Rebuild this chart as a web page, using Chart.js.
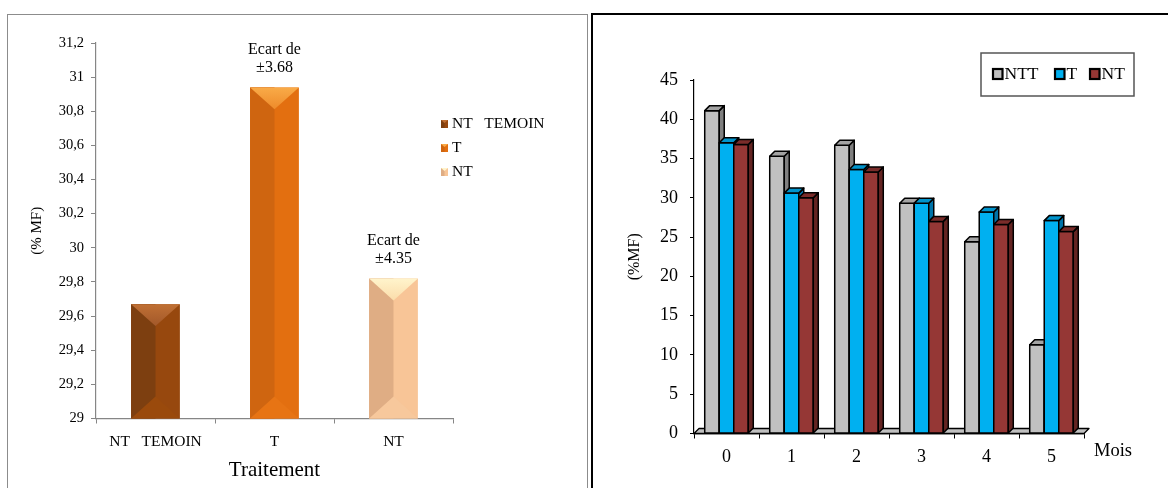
<!DOCTYPE html>
<html>
<head>
<meta charset="utf-8">
<script src="https://cdn.jsdelivr.net/npm/chart.js@4.4.1/dist/chart.umd.min.js"></script>
<style>
  html, body { margin: 0; padding: 0; background: #fff; width: 1168px; height: 488px; overflow: hidden; }
  body { position: relative; }
  .frame-left { position: absolute; left: 7px; top: 14px; width: 581px; height: 520px; border: 1.5px solid #8c8c8c; box-sizing: border-box; }
  .frame-right { position: absolute; left: 591px; top: 13px; width: 620px; height: 520px; border: 2px solid #000; box-sizing: border-box; }
  #leftChart { position: absolute; left: 0; top: 0; }
  #rightChart { position: absolute; left: 590px; top: 0; }
</style>
</head>
<body>
<div class="frame-left"></div>
<div class="frame-right"></div>
<canvas id="leftChart" width="590" height="488"></canvas>
<canvas id="rightChart" width="578" height="488"></canvas>
<script>
// ---- Treatment comparison (left panel) ----
const treatments = ['NT   TEMOIN', 'T', 'NT'];
const treatmentValues = [29.67, 30.94, 29.82];
const treatmentDeviations = ['', '±3.68', '±4.35'];
const treatmentTickLabels = ['29', '29,2', '29,4', '29,6', '29,8', '30', '30,2', '30,4', '30,6', '30,8', '31', '31,2'];

// ---- Monthly evolution (right panel) ----
const months = ['0', '1', '2', '3', '4', '5'];
const seriesNames = ['NTT', 'T', 'NT'];
const nttValues = [41.1, 35.3, 36.7, 29.3, 24.4, 11.3];
const tValues = [37.0, 30.6, 33.6, 29.3, 28.2, 27.1];
const ntValues = [36.8, 30.0, 33.3, 27.0, 26.6, 25.7];

const SERIF = '"Liberation Serif", "Times New Roman", serif';
Chart.defaults.font.family = SERIF;
Chart.defaults.color = '#000';

// bevelled bar shading for the treatment bars
const bevel = {
  face:  ['#97480e', '#e36f10', '#f8c597'],
  shade: ['#7d3f10', '#cf6510', '#dfad84'],
  crownTop: ['#c07034', '#f9ab48', '#fff4cc'],
  crownLow: ['#a2582a', '#ee8a2a', '#fbdcaa'],
  foot:  ['#9a4a0c', '#e77414', '#f7c89c']
};

const bevelPlugin = {
  id: 'bevelBars',
  afterDatasetsDraw(chart) {
    const ctx = chart.ctx;
    const meta = chart.getDatasetMeta(0);
    const floor = chart.chartArea.bottom;
    meta.data.forEach((bar, i) => {
      const w = bar.width, l = bar.x - w / 2, r = bar.x + w / 2, t = bar.y;
      const b = Math.min(bar.base, floor);
      const d = Math.min(w * 0.45, (b - t) / 2);
      ctx.save();
      ctx.fillStyle = bevel.shade[i];
      ctx.fillRect(l, t, w / 2, b - t);
      ctx.beginPath();
      ctx.moveTo(l, b); ctx.lineTo(r, b); ctx.lineTo(bar.x, b - d); ctx.closePath();
      ctx.fillStyle = bevel.foot[i];
      ctx.fill();
      const g = ctx.createLinearGradient(0, t, 0, t + d);
      g.addColorStop(0, bevel.crownTop[i]);
      g.addColorStop(1, bevel.crownLow[i]);
      ctx.beginPath();
      ctx.moveTo(l, t); ctx.lineTo(r, t); ctx.lineTo(bar.x, t + d); ctx.closePath();
      ctx.fillStyle = g;
      ctx.fill();
      // deviation note above the bar
      if (treatmentDeviations[i]) {
        ctx.fillStyle = '#000';
        ctx.font = '16px ' + SERIF;
        ctx.textAlign = 'center';
        ctx.textBaseline = 'middle';
        ctx.fillText('Ecart de', bar.x, t - 38);
        ctx.fillText(treatmentDeviations[i], bar.x, t - 20);
      }
      ctx.restore();
    });
  },
  afterDraw(chart) {
    const ctx = chart.ctx;
    ctx.save();
    ctx.font = '15.5px ' + SERIF;
    ctx.textAlign = 'left';
    ctx.textBaseline = 'middle';
    treatments.forEach((name, i) => {
      const y = 124 + i * 24;
      ctx.fillStyle = bevel.face[i];
      ctx.fillRect(441, y - 4, 7, 8);
      ctx.fillStyle = bevel.shade[i];
      ctx.fillRect(441, y - 4, 3.5, 8);
      ctx.beginPath();
      ctx.moveTo(441, y - 4); ctx.lineTo(448, y - 4); ctx.lineTo(444.5, y - 1); ctx.closePath();
      ctx.fillStyle = bevel.crownTop[i];
      ctx.fill();
      ctx.fillStyle = '#000';
      ctx.fillText(name, 452, y);
    });
    ctx.restore();
  }
};

new Chart(document.getElementById('leftChart'), {
  type: 'bar',
  data: {
    labels: treatments,
    datasets: [{
      label: '(% MF)',
      data: treatmentValues,
      backgroundColor: bevel.face,
      borderWidth: 0,
      categoryPercentage: 1,
      barPercentage: 0.41
    }]
  },
  options: {
    responsive: false,
    animation: false,
    devicePixelRatio: 1,
    layout: { padding: { left: 0, top: 43, right: 137, bottom: 0 } },
    plugins: { legend: { display: false }, tooltip: { enabled: false } },
    scales: {
      x: {
        afterFit(scale) { scale.height = 69.5; },
        grid: { display: true, drawOnChartArea: false, drawTicks: true, tickLength: 5, color: '#868686', offset: true },
        border: { display: true, color: '#868686', width: 1.2 },
        ticks: { font: { size: 15.5 }, padding: 9.2, maxRotation: 0, autoSkip: false, color: '#000' },
        title: { display: true, text: 'Traitement', font: { size: 21 }, padding: { top: 0, bottom: 5.4 }, color: '#000' }
      },
      y: {
        min: 29,
        max: 31.2,
        afterFit(scale) { scale.width = 96; },
        grid: { display: true, drawOnChartArea: false, drawTicks: true, tickLength: 5, color: '#868686' },
        border: { display: true, color: '#868686', width: 1.2 },
        ticks: {
          stepSize: 0.2,
          autoSkip: false,
          padding: 7,
          font: { size: 14.5 },
          color: '#000',
          callback: (v, i) => treatmentTickLabels[i]
        },
        title: { display: true, text: '(% MF)', font: { size: 15 }, padding: { top: 28, bottom: 0 }, color: '#000' }
      }
    }
  },
  plugins: [bevelPlugin]
});

// ---- 3D clustered columns ----
const DX = 5, DY = 5;
const faces = {
  front: ['#c0c0c0', '#00b0f0', '#953735'],
  top:   ['#a3a3a3', '#0094cc', '#7a2c2a'],
  side:  ['#808080', '#0073a8', '#642422']
};

function poly(ctx, pts, fill) {
  ctx.beginPath();
  ctx.moveTo(pts[0][0], pts[0][1]);
  for (let k = 1; k < pts.length; k++) ctx.lineTo(pts[k][0], pts[k][1]);
  ctx.closePath();
  ctx.fillStyle = fill;
  ctx.fill();
  ctx.stroke();
}

const depthPlugin = {
  id: 'depthColumns',
  beforeDatasetsDraw(chart) {
    const ctx = chart.ctx;
    const xs = chart.scales.x, ys = chart.scales.y;
    const b = ys.getPixelForValue(0);
    ctx.save();
    ctx.lineWidth = 1.3;
    ctx.strokeStyle = '#000';
    ctx.lineJoin = 'round';
    poly(ctx, [[xs.left, b], [xs.right, b], [xs.right + DX, b - DY], [xs.left + DX, b - DY]], '#c0c0c0');
    ctx.restore();
  },
  afterDatasetsDraw(chart) {
    const ctx = chart.ctx;
    const metas = chart.data.datasets.map((_, i) => chart.getDatasetMeta(i));
    ctx.save();
    ctx.lineWidth = 1.5;
    ctx.strokeStyle = '#000';
    ctx.lineJoin = 'round';
    for (let c = 0; c < chart.data.labels.length; c++) {
      metas.forEach((meta, s) => {
        const bar = meta.data[c];
        const l = bar.x - bar.width / 2, r = bar.x + bar.width / 2, t = bar.y, b = bar.base;
        poly(ctx, [[l, t], [r, t], [r, b], [l, b]], faces.front[s]);
        poly(ctx, [[r, t], [r + DX, t - DY], [r + DX, b - DY], [r, b]], faces.side[s]);
        poly(ctx, [[l, t], [r, t], [r + DX, t - DY], [l + DX, t - DY]], faces.top[s]);
      });
    }
    ctx.restore();
  },
  afterDraw(chart) {
    const ctx = chart.ctx;
    ctx.save();
    // axis name at the end of the category axis
    ctx.font = '18.5px ' + SERIF;
    ctx.fillStyle = '#000';
    ctx.textAlign = 'left';
    ctx.textBaseline = 'middle';
    ctx.fillText('Mois', chart.scales.x.right + 10, 451);
    // legend box
    ctx.lineWidth = 1.5;
    ctx.strokeStyle = '#555';
    ctx.strokeRect(391, 53, 153, 43);
    ctx.font = '17.5px ' + SERIF;
    const itemX = [403, 465, 500];
    seriesNames.forEach((name, s) => {
      const x = itemX[s];
      ctx.lineWidth = 2.2;
      ctx.strokeStyle = '#000';
      ctx.fillStyle = faces.front[s];
      ctx.fillRect(x, 69, 9.5, 10);
      ctx.strokeRect(x, 69, 9.5, 10);
      ctx.fillStyle = '#000';
      ctx.fillText(name, x + 11.5, 74.5);
    });
    ctx.restore();
  }
};

const seriesData = [nttValues, tValues, ntValues];

new Chart(document.getElementById('rightChart'), {
  type: 'bar',
  data: {
    labels: months,
    datasets: seriesNames.map((name, s) => ({
      label: name,
      data: seriesData[s],
      backgroundColor: faces.front[s],
      borderColor: '#000',
      borderWidth: 1.5,
      categoryPercentage: 0.67,
      barPercentage: 1
    }))
  },
  options: {
    responsive: false,
    animation: false,
    devicePixelRatio: 1,
    layout: { padding: { left: 0, top: 80, right: 84, bottom: 0 } },
    plugins: { legend: { display: false }, tooltip: { enabled: false } },
    scales: {
      x: {
        afterFit(scale) { scale.height = 54.5; },
        grid: { display: true, drawOnChartArea: false, drawTicks: true, tickLength: 5, color: '#000', offset: true },
        border: { display: true, color: '#000', width: 1.2 },
        ticks: { font: { size: 18 }, padding: 7.7, maxRotation: 0, autoSkip: false, color: '#000' }
      },
      y: {
        min: 0,
        max: 45,
        afterFit(scale) { scale.width = 104; },
        grid: { display: true, drawOnChartArea: false, drawTicks: true, tickLength: 4, color: '#000' },
        border: { display: true, color: '#000', width: 1.2 },
        ticks: { stepSize: 5, autoSkip: false, padding: 12, font: { size: 18 }, color: '#000' },
        title: { display: true, text: '(%MF)', font: { size: 16 }, padding: { top: 35.4, bottom: 0 }, color: '#000' }
      }
    }
  },
  plugins: [depthPlugin]
});
</script>
</body>
</html>
